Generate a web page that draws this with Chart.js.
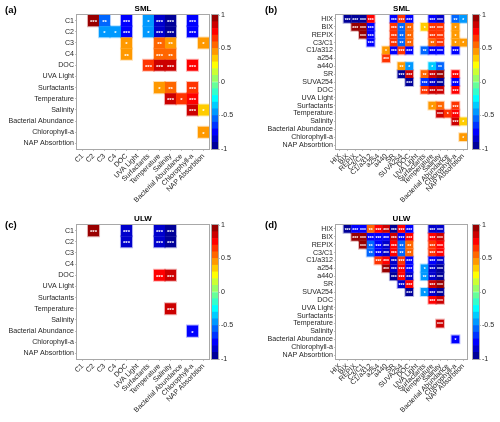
<!DOCTYPE html>
<html>
<head>
<meta charset="utf-8">
<script src="https://cdn.jsdelivr.net/npm/chart.js@4.4.1/dist/chart.umd.min.js"></script>
<style>
  body { margin: 0; background: #fff; }
  #wrap { position: relative; width: 500px; height: 422px; overflow: hidden; }
  canvas { position: absolute; }
</style>
</head>
<body>
<div id="wrap">
  <canvas id="hmA" width="250" height="211" style="left:0px;top:0px"></canvas>
  <canvas id="cbA" width="50" height="211" style="left:200px;top:0px"></canvas>
  <canvas id="hmB" width="250" height="211" style="left:250px;top:0px"></canvas>
  <canvas id="cbB" width="40" height="211" style="left:460px;top:0px"></canvas>
  <canvas id="hmC" width="250" height="211" style="left:0px;top:210px"></canvas>
  <canvas id="cbC" width="50" height="211" style="left:200px;top:210px"></canvas>
  <canvas id="hmD" width="250" height="211" style="left:250px;top:210px"></canvas>
  <canvas id="cbD" width="40" height="211" style="left:460px;top:210px"></canvas>
</div>
<script>
// variables on both axes
const varsSmall = ["C1", "C2", "C3", "C4", "DOC", "UVA Light", "Surfactants", "Temperature",
  "Salinity", "Bacterial Abundance", "Chlorophyll-a", "NAP Absorbtion"];
const varsBig = ["HIX", "BIX", "REPIX", "C3/C1", "C1/a312", "a254", "a440", "SR", "SUVA254", "DOC",
  "UVA Light", "Surfactants", "Temperature", "Salinity", "Bacterial Abundance", "Chlorophyll-a", "NAP Absorbtion"];
const cbTicks = [-1, -0.5, 0, 0.5, 1];

// [row, column, r, number of stars]
const smlA = [
  ["C1", "C2", 0.93, 3], ["C1", "C3", -0.55, 2], ["C1", "DOC", -0.75, 3], ["C1", "Surfactants", -0.45, 1],
  ["C1", "Temperature", -0.82, 3], ["C1", "Salinity", -0.93, 3], ["C1", "Chlorophyll-a", -0.75, 3],
  ["C2", "C3", -0.45, 1], ["C2", "C4", -0.45, 1], ["C2", "DOC", -0.75, 3], ["C2", "Surfactants", -0.45, 1],
  ["C2", "Temperature", -0.82, 3], ["C2", "Salinity", -0.93, 3], ["C2", "Chlorophyll-a", -0.75, 3],
  ["C3", "DOC", 0.45, 1], ["C3", "Temperature", 0.55, 2], ["C3", "Salinity", 0.45, 2], ["C3", "NAP Absorbtion", 0.45, 1],
  ["C4", "DOC", 0.45, 2], ["C4", "Temperature", 0.58, 3], ["C4", "Salinity", 0.55, 2],
  ["DOC", "Surfactants", 0.65, 3], ["DOC", "Temperature", 0.85, 3], ["DOC", "Salinity", 0.85, 3], ["DOC", "Chlorophyll-a", 0.75, 3],
  ["Surfactants", "Temperature", 0.45, 1], ["Surfactants", "Salinity", 0.55, 2], ["Surfactants", "Chlorophyll-a", 0.68, 3],
  ["Temperature", "Salinity", 0.85, 3], ["Temperature", "Bacterial Abundance", 0.62, 1], ["Temperature", "Chlorophyll-a", 0.75, 3],
  ["Salinity", "Chlorophyll-a", 0.85, 3], ["Salinity", "NAP Absorbtion", 0.35, 1],
  ["Chlorophyll-a", "NAP Absorbtion", 0.45, 1]
];

const smlB = [
  ["HIX", "BIX", -0.95, 3], ["HIX", "REPIX", -0.95, 3], ["HIX", "C3/C1", -0.95, 3], ["HIX", "C1/a312", 0.75, 3],
  ["HIX", "SR", -0.75, 3], ["HIX", "SUVA254", 0.65, 3], ["HIX", "DOC", -0.75, 3],
  ["HIX", "Temperature", -0.75, 3], ["HIX", "Salinity", -0.82, 3], ["HIX", "Chlorophyll-a", -0.55, 2], ["HIX", "NAP Absorbtion", -0.45, 1],
  ["BIX", "REPIX", 0.93, 3], ["BIX", "C3/C1", 0.93, 3], ["BIX", "C1/a312", -0.75, 3], ["BIX", "SR", 0.65, 3],
  ["BIX", "SUVA254", -0.55, 2], ["BIX", "DOC", 0.55, 2], ["BIX", "Surfactants", 0.35, 1], ["BIX", "Temperature", 0.65, 3],
  ["BIX", "Salinity", 0.65, 3], ["BIX", "Chlorophyll-a", 0.45, 1],
  ["REPIX", "C3/C1", 0.93, 3], ["REPIX", "C1/a312", -0.75, 3], ["REPIX", "SR", 0.65, 3], ["REPIX", "SUVA254", -0.55, 2],
  ["REPIX", "DOC", 0.55, 2], ["REPIX", "Temperature", 0.65, 3], ["REPIX", "Salinity", 0.65, 3], ["REPIX", "Chlorophyll-a", 0.45, 1],
  ["C3/C1", "C1/a312", -0.75, 3], ["C3/C1", "SR", 0.65, 3], ["C3/C1", "SUVA254", -0.55, 2], ["C3/C1", "DOC", 0.55, 2],
  ["C3/C1", "Temperature", 0.55, 2], ["C3/C1", "Salinity", 0.65, 3], ["C3/C1", "Chlorophyll-a", 0.45, 1], ["C3/C1", "NAP Absorbtion", 0.45, 1],
  ["C1/a312", "a440", 0.45, 1], ["C1/a312", "SR", -0.75, 3], ["C1/a312", "SUVA254", 0.65, 3], ["C1/a312", "DOC", -0.75, 3],
  ["C1/a312", "Surfactants", -0.55, 2], ["C1/a312", "Temperature", -0.75, 3], ["C1/a312", "Salinity", -0.75, 3], ["C1/a312", "Chlorophyll-a", -0.75, 3],
  ["a254", "a440", 0.65, 3],
  ["a440", "SUVA254", 0.45, 2], ["a440", "DOC", -0.45, 1], ["a440", "Temperature", -0.35, 1], ["a440", "Salinity", -0.6, 2],
  ["SR", "SUVA254", -0.93, 3], ["SR", "DOC", 0.85, 3], ["SR", "Surfactants", 0.55, 2], ["SR", "Temperature", 0.85, 3],
  ["SR", "Salinity", 0.93, 3], ["SR", "Chlorophyll-a", 0.75, 3],
  ["SUVA254", "DOC", -0.93, 3], ["SUVA254", "Surfactants", -0.65, 3], ["SUVA254", "Temperature", -0.82, 3],
  ["SUVA254", "Salinity", -0.93, 3], ["SUVA254", "Chlorophyll-a", -0.75, 3],
  ["DOC", "Surfactants", 0.65, 3], ["DOC", "Temperature", 0.85, 3], ["DOC", "Salinity", 0.85, 3], ["DOC", "Chlorophyll-a", 0.75, 3],
  ["Surfactants", "Temperature", 0.45, 1], ["Surfactants", "Salinity", 0.55, 2], ["Surfactants", "Chlorophyll-a", 0.65, 3],
  ["Temperature", "Salinity", 0.85, 3], ["Temperature", "Bacterial Abundance", 0.62, 1], ["Temperature", "Chlorophyll-a", 0.75, 3],
  ["Salinity", "Chlorophyll-a", 0.85, 3], ["Salinity", "NAP Absorbtion", 0.35, 1],
  ["Chlorophyll-a", "NAP Absorbtion", 0.45, 1]
];

const ulwC = [
  ["C1", "C2", 0.93, 3], ["C1", "DOC", -0.82, 3], ["C1", "Temperature", -0.82, 3], ["C1", "Salinity", -0.93, 3],
  ["C2", "DOC", -0.82, 3], ["C2", "Temperature", -0.82, 3], ["C2", "Salinity", -0.93, 3],
  ["DOC", "Temperature", 0.75, 3], ["DOC", "Salinity", 0.85, 3],
  ["Temperature", "Salinity", 0.85, 3],
  ["Bacterial Abundance", "Chlorophyll-a", -0.75, 1]
];

const ulwD = [
  ["HIX", "BIX", -0.95, 3], ["HIX", "REPIX", -0.75, 3], ["HIX", "C3/C1", -0.75, 3], ["HIX", "C1/a312", 0.55, 2],
  ["HIX", "a254", 0.75, 3], ["HIX", "a440", 0.82, 3], ["HIX", "SR", -0.93, 3], ["HIX", "SUVA254", 0.75, 3],
  ["HIX", "DOC", -0.75, 3], ["HIX", "Temperature", -0.82, 3], ["HIX", "Salinity", -0.82, 3],
  ["BIX", "REPIX", 0.93, 3], ["BIX", "C3/C1", 0.93, 3], ["BIX", "C1/a312", -0.75, 3], ["BIX", "a254", -0.75, 3],
  ["BIX", "a440", -0.75, 3], ["BIX", "SR", 0.85, 3], ["BIX", "SUVA254", -0.75, 3], ["BIX", "DOC", 0.75, 3],
  ["BIX", "Temperature", 0.75, 3], ["BIX", "Salinity", 0.82, 3],
  ["REPIX", "C3/C1", 0.93, 3], ["REPIX", "C1/a312", -0.55, 2], ["REPIX", "a254", -0.75, 3], ["REPIX", "a440", -0.8, 3],
  ["REPIX", "SR", 0.75, 3], ["REPIX", "SUVA254", -0.55, 2], ["REPIX", "DOC", 0.55, 2], ["REPIX", "Temperature", 0.65, 3],
  ["REPIX", "Salinity", 0.75, 3],
  ["C3/C1", "C1/a312", -0.55, 2], ["C3/C1", "a254", -0.75, 3], ["C3/C1", "a440", -0.82, 3], ["C3/C1", "SR", 0.75, 3],
  ["C3/C1", "SUVA254", -0.55, 2], ["C3/C1", "DOC", 0.55, 2], ["C3/C1", "Temperature", 0.65, 3], ["C3/C1", "Salinity", 0.75, 3],
  ["C1/a312", "a254", 0.65, 3], ["C1/a312", "a440", 0.75, 3], ["C1/a312", "SR", -0.82, 3], ["C1/a312", "SUVA254", 0.65, 3],
  ["C1/a312", "DOC", -0.75, 3], ["C1/a312", "Temperature", -0.75, 3], ["C1/a312", "Salinity", -0.82, 3],
  ["a254", "a440", 0.93, 3], ["a254", "SR", -0.82, 3], ["a254", "SUVA254", 0.75, 3], ["a254", "DOC", -0.75, 3],
  ["a254", "Surfactants", -0.45, 1], ["a254", "Temperature", -0.82, 3], ["a254", "Salinity", -0.93, 3],
  ["a440", "SR", -0.93, 3], ["a440", "SUVA254", 0.75, 3], ["a440", "DOC", -0.8, 3], ["a440", "Surfactants", -0.45, 2],
  ["a440", "Temperature", -0.82, 3], ["a440", "Salinity", -0.93, 3],
  ["SR", "SUVA254", -0.82, 3], ["SR", "DOC", 0.75, 3], ["SR", "Temperature", 0.85, 3], ["SR", "Salinity", 0.93, 3],
  ["SUVA254", "DOC", -0.93, 3], ["SUVA254", "Surfactants", -0.45, 1], ["SUVA254", "Temperature", -0.8, 3], ["SUVA254", "Salinity", -0.93, 3],
  ["DOC", "Temperature", 0.75, 3], ["DOC", "Salinity", 0.85, 3],
  ["Temperature", "Salinity", 0.85, 3],
  ["Bacterial Abundance", "Chlorophyll-a", -0.75, 1]
];

// jet colormap, 20 levels from -1 to 1
const jet20 = [
  [0, 0, 153], [0, 0, 204], [0, 0, 255], [0, 51, 255], [0, 102, 255], [0, 153, 255], [0, 204, 255],
  [0, 255, 255], [51, 255, 204], [102, 255, 153], [153, 255, 102], [204, 255, 51], [255, 255, 0],
  [255, 204, 0], [255, 153, 0], [255, 102, 0], [255, 51, 0], [255, 0, 0], [204, 0, 0], [153, 0, 0]
];
const colorFor = (r, a = 1) => {
  const i = Math.max(0, Math.min(jet20.length - 1, Math.floor((r + 1) / 2 * jet20.length)));
  const c = jet20[i];
  return `rgba(${c[0]},${c[1]},${c[2]},${a})`;
};

Chart.defaults.font.family = '"Liberation Sans", Arial, sans-serif';
Chart.defaults.color = "#262626";
Chart.defaults.animation = false;

// box round the plot area, stars, title and panel tag
const framePlugin = {
  id: "frame",
  afterDatasetsDraw(chart, args, opts) {
    if (!opts.stars) return;
    const ctx = chart.ctx;
    const meta = chart.getDatasetMeta(0);
    ctx.save();
    ctx.fillStyle = "#fff";
    ctx.font = `bold ${opts.stars}px "Liberation Sans", Arial`;
    ctx.textAlign = "center";
    ctx.textBaseline = "middle";
    meta.data.forEach((el, i) => {
      const d = chart.data.datasets[0].data[i];
      ctx.fillText("*".repeat(d.sig), el.x, el.y + opts.stars * 0.3);
    });
    ctx.restore();
  },
  afterDraw(chart, args, opts) {
    const { ctx, chartArea: a } = chart;
    ctx.save();
    ctx.strokeStyle = "#a8a8a8";
    ctx.lineWidth = 1;
    ctx.strokeRect(a.left - 0.5, a.top - 0.5, a.right - a.left + 1, a.bottom - a.top + 1);
    ctx.fillStyle = "#000";
    ctx.textBaseline = "middle";
    if (opts.title) {
      ctx.font = 'bold 8px "Liberation Sans", Arial';
      ctx.textAlign = "center";
      ctx.fillText(opts.title, (a.left + a.right) / 2, a.top - 6);
    }
    if (opts.tag) {
      ctx.font = 'bold 9.5px "Liberation Sans", Arial';
      ctx.textAlign = "left";
      ctx.fillText(opts.tag, opts.tagX, opts.tagY);
    }
    ctx.restore();
  }
};

const heatmap = (id, vars, cells, title, tag, geo) => {
  const points = cells.map(c => ({ x: c[1], y: c[0], r: c[2], sig: c[3] }));
  const n = vars.length;
  const side = chart => {
    const a = chart.chartArea;
    if (!a) return 0;
    return ((a.right - a.left) + (a.bottom - a.top)) / 2 / n;
  };
  const axisFont = { size: 7.1 };
  new Chart(document.getElementById(id), {
    type: "scatter",
    data: {
      datasets: [
        {
          data: points,
          order: 0,
          pointStyle: "rect",
          borderWidth: 0,
          pointRadius: ctx => side(ctx.chart) / Math.SQRT2,
          backgroundColor: ctx => colorFor(ctx.raw ? ctx.raw.r : 0)
        },
        {
          // light edge round the cells
          data: points,
          order: 1,
          pointStyle: "rect",
          borderWidth: 0,
          pointRadius: ctx => (side(ctx.chart) + 2) / Math.SQRT2,
          backgroundColor: ctx => colorFor(ctx.raw ? ctx.raw.r : 0, 0.3)
        }
      ]
    },
    options: {
      responsive: false,
      events: [],
      layout: { autoPadding: false, padding: { left: 0, top: geo.top, right: geo.right, bottom: 0 } },
      plugins: {
        legend: { display: false },
        tooltip: { enabled: false },
        frame: { stars: geo.stars, title: title, tag: tag, tagX: geo.tagX, tagY: geo.tagY }
      },
      scales: {
        x: {
          type: "category",
          labels: vars,
          offset: true,
          border: { display: false },
          grid: { drawOnChartArea: false, tickLength: 2, color: "#bdbdbd" },
          ticks: { autoSkip: false, minRotation: 45, maxRotation: 45, padding: 1, font: axisFont },
          afterFit: s => { s.height = geo.bottom; }
        },
        y: {
          type: "category",
          labels: vars,
          offset: true,
          border: { display: false },
          grid: { drawOnChartArea: false, tickLength: 2, color: "#bdbdbd" },
          ticks: { autoSkip: false, padding: 1, font: axisFont },
          afterFit: s => { s.width = geo.left; }
        }
      }
    },
    plugins: [framePlugin]
  });
};

const colorbar = (id, geo) => {
  const step = 2 / jet20.length;
  new Chart(document.getElementById(id), {
    type: "bar",
    data: {
      labels: [""],
      datasets: jet20.map((c, i) => ({
        data: [[-1 + i * step, -1 + (i + 1) * step]],
        backgroundColor: colorFor(-1 + (i + 0.5) * step),
        grouped: false,
        barPercentage: 1,
        categoryPercentage: 1,
        borderWidth: 0
      }))
    },
    options: {
      responsive: false,
      events: [],
      layout: { autoPadding: false, padding: { left: geo.left, top: geo.top, right: 0, bottom: geo.bottom } },
      plugins: { legend: { display: false }, tooltip: { enabled: false }, frame: {} },
      scales: {
        x: { display: false },
        y: {
          position: "right",
          min: -1,
          max: 1,
          border: { display: false },
          grid: { drawOnChartArea: false, tickLength: 2, color: "#bdbdbd" },
          afterBuildTicks: s => { s.ticks = cbTicks.map(v => ({ value: v })); },
          ticks: { padding: 1, font: { size: 7.1 }, callback: v => String(v) },
          afterFit: s => { s.width = geo.width; }
        }
      }
    },
    plugins: [framePlugin]
  });
};

const geoSmall = { left: 77, right: 41, top: 15, bottom: 62, stars: 6, tagX: 5, tagY: 10 };
const geoBig = { left: 86, right: 33, top: 15, bottom: 62, stars: 5, tagX: 15, tagY: 10 };

heatmap("hmA", varsSmall, smlA, "SML", "(a)", geoSmall);
heatmap("hmB", varsBig, smlB, "SML", "(b)", geoBig);
heatmap("hmC", varsSmall, ulwC, "ULW", "(c)", Object.assign({}, geoSmall, { tagY: 15 }));
heatmap("hmD", varsBig, ulwD, "ULW", "(d)", Object.assign({}, geoBig, { tagY: 15 }));

colorbar("cbA", { left: 12, top: 15, bottom: 62, width: 32 });
colorbar("cbB", { left: 13, top: 15, bottom: 62, width: 21 });
colorbar("cbC", { left: 12, top: 15, bottom: 62, width: 32 });
colorbar("cbD", { left: 13, top: 15, bottom: 62, width: 21 });
</script>
</body>
</html>
